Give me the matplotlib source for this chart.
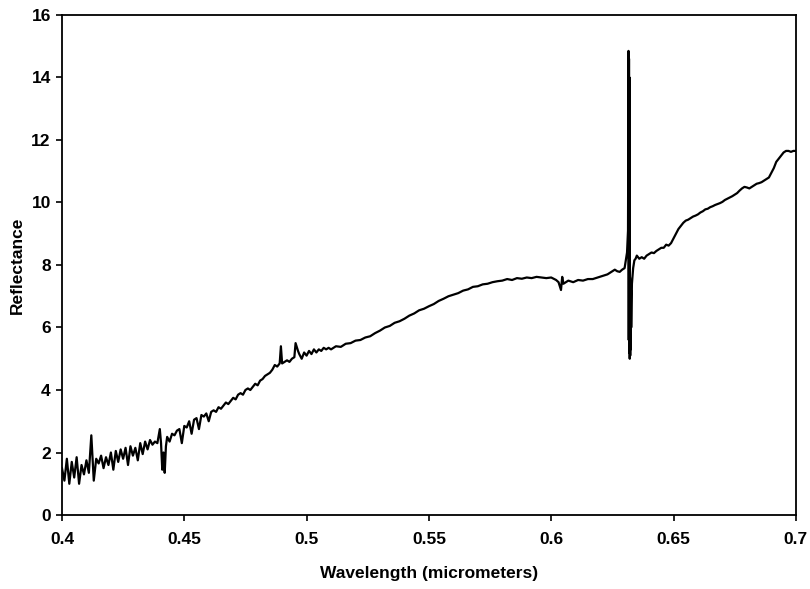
import matplotlib
matplotlib.use("Agg")
import matplotlib.pyplot as plt

# readings, split into pieces so wavelength/value pairs stay aligned
wl_noisy = [0.400, 0.401, 0.402, 0.403, 0.404, 0.405, 0.406, 0.407, 0.408, 0.409,
            0.410, 0.411, 0.412, 0.413, 0.414, 0.415, 0.416, 0.417, 0.418, 0.419,
            0.420, 0.421, 0.422, 0.423, 0.424, 0.425, 0.426, 0.427, 0.428, 0.429,
            0.430, 0.431, 0.432, 0.433, 0.434, 0.435, 0.436, 0.437, 0.438, 0.439,
            0.440, 0.4405, 0.441, 0.4415, 0.442, 0.4425, 0.443, 0.444, 0.445, 0.446]
refl_noisy = [1.5, 1.1, 1.8, 1.0, 1.7, 1.2, 1.85, 1.0, 1.6, 1.3,
              1.75, 1.35, 2.55, 1.1, 1.8, 1.65, 1.9, 1.5, 1.85, 1.6,
              2.0, 1.45, 2.05, 1.7, 2.1, 1.8, 2.15, 1.6, 2.2, 1.9,
              2.15, 1.75, 2.3, 1.95, 2.35, 2.1, 2.4, 2.25, 2.35, 2.3,
              2.75, 2.3, 1.45, 2.0, 1.35, 2.2, 2.5, 2.35, 2.6, 2.55]

wl_rise = [0.447, 0.448, 0.449, 0.450, 0.451, 0.452, 0.453, 0.454, 0.455, 0.456,
           0.457, 0.458, 0.459, 0.460, 0.461, 0.462, 0.463, 0.464, 0.465, 0.466,
           0.467, 0.468, 0.469, 0.470, 0.471, 0.472, 0.473, 0.474, 0.475, 0.476,
           0.477, 0.478, 0.479, 0.480, 0.481, 0.482, 0.483, 0.484, 0.485, 0.486,
           0.487, 0.488, 0.489, 0.4895, 0.490, 0.491, 0.492, 0.493, 0.494, 0.495,
           0.4955, 0.4965, 0.497, 0.498, 0.499, 0.500, 0.501, 0.502, 0.503, 0.504,
           0.505, 0.506, 0.507, 0.508, 0.509, 0.510]
refl_rise = [2.7, 2.75, 2.3, 2.85, 2.8, 3.0, 2.6, 3.05, 3.1, 2.75,
             3.2, 3.15, 3.25, 3.0, 3.3, 3.35, 3.3, 3.45, 3.4, 3.5,
             3.6, 3.55, 3.65, 3.75, 3.7, 3.85, 3.9, 3.85, 4.0, 4.05,
             4.0, 4.1, 4.2, 4.15, 4.3, 4.35, 4.45, 4.5, 4.55, 4.65,
             4.8, 4.75, 4.85, 5.4, 4.85, 4.9, 4.95, 4.9, 5.0, 5.05,
             5.5, 5.25, 5.15, 5.0, 5.2, 5.1, 5.25, 5.15, 5.3, 5.2,
             5.3, 5.25, 5.35, 5.3, 5.35, 5.3]

wl_smooth = [0.512, 0.514, 0.516, 0.518, 0.520, 0.522, 0.524, 0.526, 0.528, 0.530,
             0.532, 0.534, 0.536, 0.538, 0.540, 0.542, 0.544, 0.546, 0.548, 0.550,
             0.552, 0.554, 0.556, 0.558, 0.560, 0.562, 0.564, 0.566, 0.568, 0.570,
             0.572, 0.574, 0.576, 0.578, 0.580, 0.582, 0.584, 0.586, 0.588, 0.590,
             0.592, 0.594, 0.596, 0.598, 0.600, 0.602, 0.603, 0.604, 0.6045, 0.605,
             0.607, 0.609, 0.611, 0.613, 0.615, 0.617, 0.619, 0.621, 0.623, 0.625,
             0.626, 0.627, 0.628, 0.629, 0.630, 0.631]
refl_smooth = [5.4, 5.38, 5.48, 5.5, 5.58, 5.6, 5.68, 5.72, 5.82, 5.9,
               6.0, 6.05, 6.15, 6.2, 6.28, 6.38, 6.45, 6.55, 6.6, 6.68,
               6.75, 6.85, 6.92, 7.0, 7.05, 7.1, 7.18, 7.22, 7.3, 7.32,
               7.38, 7.4, 7.45, 7.48, 7.5, 7.55, 7.52, 7.58, 7.56, 7.6,
               7.58, 7.62, 7.6, 7.58, 7.6, 7.52, 7.45, 7.2, 7.62, 7.4,
               7.5, 7.45, 7.52, 7.5, 7.55, 7.55, 7.6, 7.65, 7.7, 7.8,
               7.85, 7.8, 7.78, 7.85, 7.9, 8.4]

# the sharp artefact near 0.632
wl_spike = [0.6314, 0.6316, 0.6317, 0.6318, 0.6319, 0.6320, 0.6321, 0.6322, 0.6323,
            0.6324, 0.6325, 0.6326, 0.6327, 0.6330, 0.6335, 0.6340, 0.6345, 0.6350]
refl_spike = [9.1, 14.85, 5.6, 14.6, 5.2, 14.0, 5.0, 7.6, 5.1,
              7.4, 5.3, 7.2, 6.0, 7.4, 7.9, 8.15, 8.2, 8.3]

wl_tail = [0.636, 0.637, 0.638, 0.639, 0.640, 0.641, 0.642, 0.643, 0.644, 0.645,
           0.646, 0.647, 0.648, 0.649, 0.650, 0.651, 0.652, 0.653, 0.654, 0.655,
           0.656, 0.657, 0.658, 0.659, 0.660, 0.661, 0.662, 0.663, 0.664, 0.665,
           0.666, 0.667, 0.668, 0.669, 0.670, 0.671, 0.672, 0.673, 0.674, 0.675,
           0.676, 0.677, 0.678, 0.679, 0.680, 0.681, 0.682, 0.683, 0.684, 0.685,
           0.686, 0.687, 0.688, 0.689, 0.690, 0.691, 0.692, 0.693, 0.694, 0.695,
           0.696, 0.697, 0.698, 0.699, 0.700]
refl_tail = [8.2, 8.25, 8.2, 8.3, 8.35, 8.4, 8.38, 8.45, 8.5, 8.55,
             8.55, 8.65, 8.62, 8.7, 8.85, 9.0, 9.15, 9.25, 9.35, 9.42,
             9.45, 9.5, 9.55, 9.58, 9.62, 9.68, 9.72, 9.78, 9.8, 9.85,
             9.88, 9.92, 9.95, 9.98, 10.02, 10.08, 10.12, 10.16, 10.2, 10.25,
             10.3, 10.38, 10.45, 10.5, 10.48, 10.45, 10.5, 10.55, 10.6, 10.62,
             10.65, 10.7, 10.75, 10.8, 10.95, 11.1, 11.3, 11.4, 11.5, 11.6,
             11.65, 11.65, 11.62, 11.65, 11.65]

wavelength = wl_noisy + wl_rise + wl_smooth + wl_spike + wl_tail
reflectance = refl_noisy + refl_rise + refl_smooth + refl_spike + refl_tail

x_ticks = [0.4, 0.45, 0.5, 0.55, 0.6, 0.65, 0.7]
x_tick_labels = ["0.4", "0.45", "0.5", "0.55", "0.6", "0.65", "0.7"]
y_ticks = [0, 2, 4, 6, 8, 10, 12, 14, 16]

plt.rcParams['font.family'] = ['Liberation Sans', 'DejaVu Sans']
plt.rcParams['font.weight'] = 'bold'

fig = plt.figure(figsize=(8.1, 5.89), dpi=100)
ax = fig.add_axes([0.0765, 0.1256, 0.906, 0.849])

ax.plot(wavelength, reflectance, color='black', linewidth=1.6)

ax.set_xlim(0.4, 0.7)
ax.set_ylim(0, 16)
ax.set_xticks(x_ticks)
ax.set_xticklabels(x_tick_labels)
ax.set_yticks(y_ticks)
ax.tick_params(axis='both', direction='out', length=4, width=1.2, labelsize=12.5)
ax.tick_params(axis='x', pad=8)
ax.tick_params(axis='y', pad=4)
for s in ax.spines.values():
    s.set_linewidth(1.3)

ax.set_xlabel('Wavelength (micrometers)', fontsize=12.5, fontweight='bold', labelpad=14)
ax.set_ylabel('Reflectance', fontsize=12.5, fontweight='bold', labelpad=5)

fig.savefig('out.png', dpi=100)
